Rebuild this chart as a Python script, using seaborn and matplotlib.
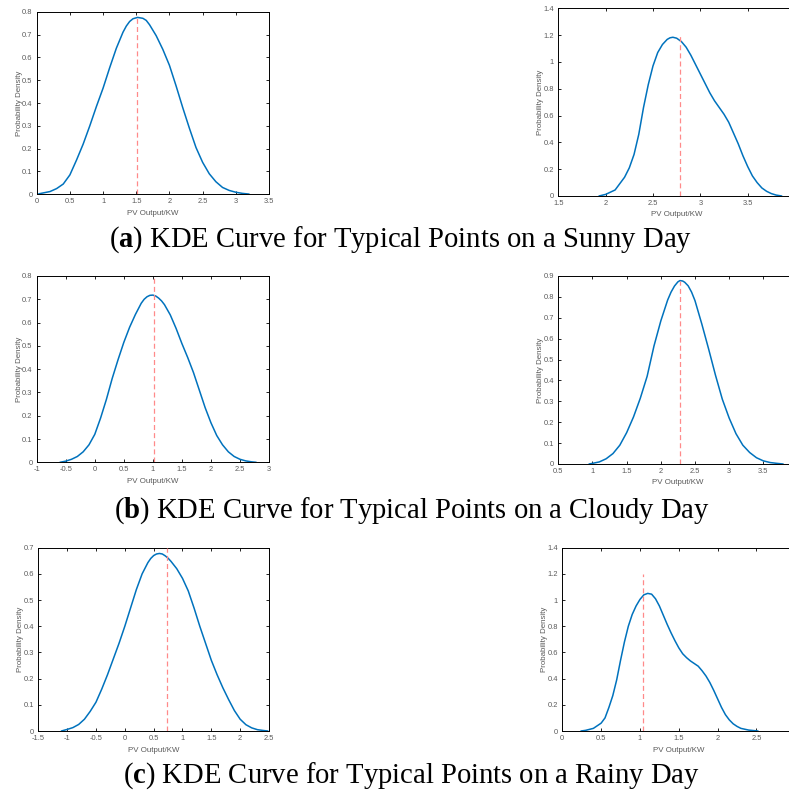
import matplotlib
matplotlib.use("Agg")
import matplotlib.pyplot as plt
import matplotlib.ticker as mticker
import numpy as np
import pandas as pd
import seaborn as sns

# ---- KDE curves of PV output at typical points (x: PV output in kW, y: density) ----
sunny_1_x = [0.03, 0.2, 0.3, 0.4, 0.5, 0.6, 0.7, 0.8, 0.9, 1.0, 1.1, 1.2, 1.3, 1.35, 1.4,
             1.45, 1.52, 1.6, 1.65, 1.7, 1.8, 1.9, 2.0, 2.1, 2.2, 2.3, 2.4, 2.5, 2.6, 2.7,
             2.8, 2.9, 3.0, 3.1, 3.2]
sunny_1_y = [0.002, 0.012, 0.025, 0.045, 0.085, 0.15, 0.22, 0.30, 0.385, 0.465, 0.555, 0.64,
             0.71, 0.737, 0.757, 0.769, 0.775, 0.771, 0.762, 0.743, 0.695, 0.635, 0.565,
             0.475, 0.38, 0.29, 0.205, 0.14, 0.09, 0.055, 0.03, 0.017, 0.009, 0.004, 0.001]

sunny_2_x = [1.93, 2.0, 2.1, 2.2, 2.25, 2.3, 2.35, 2.4, 2.45, 2.5, 2.55, 2.6, 2.65, 2.68,
             2.71, 2.75, 2.8, 2.85, 2.9, 2.95, 3.0, 3.05, 3.1, 3.15, 3.2, 3.25, 3.3, 3.35,
             3.4, 3.45, 3.5, 3.55, 3.6, 3.65, 3.7, 3.75, 3.8, 3.86]
sunny_2_y = [0.0, 0.012, 0.045, 0.14, 0.21, 0.31, 0.46, 0.66, 0.83, 0.97, 1.07, 1.13, 1.168,
             1.18, 1.184, 1.177, 1.152, 1.11, 1.05, 0.98, 0.91, 0.84, 0.77, 0.71, 0.66,
             0.61, 0.55, 0.47, 0.39, 0.30, 0.22, 0.15, 0.10, 0.06, 0.035, 0.018, 0.007, 0.0]

cloudy_1_x = [-0.6, -0.5, -0.4, -0.3, -0.2, -0.1, 0.0, 0.1, 0.2, 0.3, 0.4, 0.5, 0.6, 0.7,
              0.8, 0.85, 0.9, 0.95, 1.0, 1.05, 1.1, 1.15, 1.2, 1.3, 1.4, 1.5, 1.6, 1.7,
              1.8, 1.9, 2.0, 2.1, 2.2, 2.3, 2.4, 2.5, 2.6, 2.7, 2.78]
cloudy_1_y = [0.0, 0.005, 0.013, 0.025, 0.045, 0.075, 0.12, 0.19, 0.27, 0.36, 0.44, 0.515,
              0.58, 0.635, 0.683, 0.70, 0.711, 0.717, 0.718, 0.714, 0.705, 0.693, 0.677,
              0.633, 0.575, 0.51, 0.45, 0.385, 0.31, 0.235, 0.17, 0.115, 0.075, 0.045,
              0.025, 0.013, 0.006, 0.002, 0.0]

cloudy_2_x = [0.95, 1.0, 1.1, 1.2, 1.3, 1.4, 1.5, 1.6, 1.7, 1.8, 1.9, 2.0, 2.1, 2.15, 2.2,
              2.25, 2.28, 2.32, 2.35, 2.4, 2.45, 2.5, 2.6, 2.7, 2.8, 2.9, 3.0, 3.1, 3.2,
              3.3, 3.4, 3.5, 3.6, 3.7, 3.79]
cloudy_2_y = [0.0, 0.003, 0.01, 0.025, 0.05, 0.09, 0.15, 0.225, 0.315, 0.42, 0.565, 0.685,
              0.785, 0.823, 0.852, 0.872, 0.878, 0.876, 0.87, 0.853, 0.823, 0.782, 0.67,
              0.55, 0.425, 0.31, 0.22, 0.145, 0.09, 0.055, 0.03, 0.015, 0.007, 0.003, 0.0]

rainy_1_x = [-1.1, -1.0, -0.9, -0.8, -0.7, -0.6, -0.5, -0.4, -0.3, -0.2, -0.1, 0.0, 0.1,
             0.2, 0.3, 0.4, 0.45, 0.5, 0.55, 0.6, 0.65, 0.7, 0.75, 0.8, 0.9, 1.0, 1.1,
             1.2, 1.3, 1.4, 1.5, 1.6, 1.7, 1.8, 1.9, 2.0, 2.1, 2.2, 2.3, 2.4, 2.48]
rainy_1_y = [0.0, 0.006, 0.013, 0.025, 0.045, 0.075, 0.11, 0.16, 0.215, 0.275, 0.335, 0.40,
             0.47, 0.54, 0.60, 0.643, 0.659, 0.670, 0.676, 0.678, 0.676, 0.669, 0.660,
             0.648, 0.62, 0.583, 0.535, 0.47, 0.40, 0.335, 0.27, 0.215, 0.165, 0.12,
             0.078, 0.045, 0.024, 0.012, 0.005, 0.002, 0.0]

rainy_2_x = [0.24, 0.3, 0.4, 0.5, 0.55, 0.6, 0.65, 0.7, 0.75, 0.8, 0.85, 0.9, 0.95, 1.0,
             1.05, 1.1, 1.15, 1.2, 1.25, 1.3, 1.35, 1.4, 1.45, 1.5, 1.55, 1.6, 1.65, 1.7,
             1.75, 1.8, 1.85, 1.9, 1.95, 2.0, 2.05, 2.1, 2.15, 2.2, 2.25, 2.3, 2.4, 2.52]
rainy_2_y = [0.0, 0.005, 0.02, 0.06, 0.10, 0.18, 0.27, 0.39, 0.54, 0.68, 0.80, 0.89, 0.955,
             1.005, 1.04, 1.051, 1.045, 1.01, 0.955, 0.885, 0.815, 0.75, 0.69, 0.635, 0.59,
             0.56, 0.535, 0.515, 0.495, 0.46, 0.42, 0.37, 0.31, 0.245, 0.18, 0.125, 0.085,
             0.055, 0.035, 0.02, 0.007, 0.0]

# Typical-point markers (dashed vertical lines): position and height
sunny_1_mark, sunny_1_mark_top = 1.515, 0.775
sunny_2_mark, sunny_2_mark_top = 2.79, 1.20
cloudy_1_mark, cloudy_1_mark_top = 1.017, 0.80
cloudy_2_mark, cloudy_2_mark_top = 2.28, 0.878
rainy_1_mark, rainy_1_mark_top = 0.734, 0.70
rainy_2_mark, rainy_2_mark_top = 1.034, 1.20

captions = [
    r"($\mathbf{a}$) KDE Curve for Typical Points on a Sunny Day",
    r"($\mathbf{b}$) KDE Curve for Typical Points on a Cloudy Day",
    r"($\mathbf{c}$) KDE Curve for Typical Points on a Rainy Day",
]

x_label = "PV Output/KW"
y_label = "Probability Density"

sns.set_theme(style="white")
plt.rcParams["font.family"] = ["Liberation Sans", "DejaVu Sans"]
plt.rcParams["mathtext.fontset"] = "custom"
plt.rcParams["mathtext.rm"] = "Liberation Serif"
plt.rcParams["mathtext.bf"] = "Liberation Serif:bold"

W, H = 789, 794
fig = plt.figure(figsize=(W / 100, H / 100), dpi=100)
fig.patch.set_facecolor("white")


def add_axes_px(left, top, right, bottom):
    return fig.add_axes([left / W, 1 - bottom / H, (right - left) / W, (bottom - top) / H])


panels = [
    # (box px, x, y, mark, mark_top, xlim, xticks, ylim, yticks)
    ((36.7, 11.7, 269, 194.3), sunny_1_x, sunny_1_y, sunny_1_mark, sunny_1_mark_top,
     (0, 3.5), np.arange(0, 3.51, 0.5), (0, 0.8), np.arange(0, 0.81, 0.1)),
    ((558.3, 8.3, 795, 196), sunny_2_x, sunny_2_y, sunny_2_mark, sunny_2_mark_top,
     (1.5, 4), np.arange(1.5, 3.51, 0.5), (0, 1.4), np.arange(0, 1.41, 0.2)),
    ((36.7, 276, 269, 462.3), cloudy_1_x, cloudy_1_y, cloudy_1_mark, cloudy_1_mark_top,
     (-1, 3), np.arange(-1, 3.01, 0.5), (0, 0.8), np.arange(0, 0.81, 0.1)),
    ((558.3, 276, 797.5, 464), cloudy_2_x, cloudy_2_y, cloudy_2_mark, cloudy_2_mark_top,
     (0.5, 4), np.arange(0.5, 3.51, 0.5), (0, 0.9), np.arange(0, 0.91, 0.1)),
    ((38.3, 547.7, 269, 731), rainy_1_x, rainy_1_y, rainy_1_mark, rainy_1_mark_top,
     (-1.5, 2.5), np.arange(-1.5, 2.51, 0.5), (0, 0.7), np.arange(0, 0.71, 0.1)),
    ((562.3, 547.7, 795.3, 731), rainy_2_x, rainy_2_y, rainy_2_mark, rainy_2_mark_top,
     (0, 3), np.arange(0, 2.51, 0.5), (0, 1.4), np.arange(0, 1.41, 0.2)),
]

tick_color = "#5a5a5a"
fmt = mticker.FuncFormatter(lambda v, p: "%g" % round(v, 3))

for box, xs, ys, mark, mark_top, xlim, xticks, ylim, yticks in panels:
    ax = add_axes_px(*box)
    data = pd.DataFrame({"x": xs, "y": ys})
    sns.lineplot(data=data, x="x", y="y", ax=ax, color="#0072BD", lw=1.1,
                 sort=False, estimator=None)
    ax.plot([mark, mark], [0, mark_top], color="#FF8A8A", lw=0.9,
            ls=(0, (4, 2.5)), zorder=3)
    ax.set_xlim(*xlim)
    ax.set_ylim(*ylim)
    ax.set_xticks(xticks)
    ax.set_yticks(yticks)
    ax.xaxis.set_major_formatter(fmt)
    ax.yaxis.set_major_formatter(fmt)
    ax.tick_params(direction="in", length=2.2, width=0.6, color="black",
                   labelsize=5.4, labelcolor=tick_color, pad=3.0,
                   top=True, right=True, bottom=True, left=True)
    for s in ax.spines.values():
        s.set_visible(True)
        s.set_color("black")
        s.set_linewidth(0.7)
    ax.set_xlabel(x_label, fontsize=5.7, color=tick_color)
    ax.set_ylabel(y_label, fontsize=5.7, color=tick_color)
    hpx = box[3] - box[1]
    wpx = box[2] - box[0]
    ax.xaxis.set_label_coords(0.5, -15.5 / hpx)
    ax.yaxis.set_label_coords(-14.0 / wpx, 0.5)
    ax.grid(False)
    ax.set_facecolor("white")

caption_pos = [(401, 240), (412, 511), (411, 776)]
for (cx, cy), text in zip(caption_pos, captions):
    fig.text(cx / W, 1 - cy / H, text, ha="center", va="center",
             fontsize=20.6, family="Liberation Serif", color="black")

fig.savefig("out.png", dpi=100, facecolor="white")
